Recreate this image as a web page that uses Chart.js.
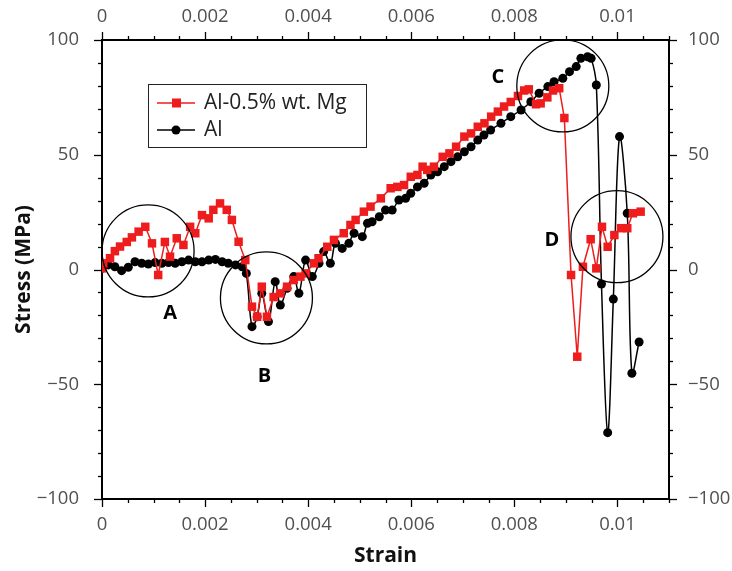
<!DOCTYPE html>
<html>
<head>
<meta charset="utf-8">
<script src="https://cdn.jsdelivr.net/npm/chart.js@4/dist/chart.umd.min.js"></script>
<style>
    html, body { margin: 0; padding: 0; background: #fff; }
    #wrap { width: 732px; height: 571px; }
</style>
</head>
<body>
<div id="wrap"><canvas id="chart" width="732" height="571"></canvas></div>
<script>
// Al-0.5% wt. Mg (red squares)
const mgStrain = [0, 0.000025, 0.000156, 0.00025, 0.00035, 0.00048, 0.00058, 0.00071, 0.00084, 0.00097, 0.00109,
    0.00122, 0.00132, 0.00145, 0.00158, 0.00171, 0.00181, 0.00194, 0.00207, 0.00216, 0.00229, 0.00242,
    0.00252, 0.00265, 0.00278, 0.00291, 0.00301, 0.0031, 0.0032, 0.00333, 0.00346, 0.00359, 0.00372,
    0.00385, 0.00395, 0.00411, 0.0042, 0.00437, 0.0045, 0.00469, 0.00482, 0.00492, 0.00508, 0.00521,
    0.00541, 0.0056, 0.00573, 0.00586, 0.00599, 0.00612, 0.00622, 0.00631, 0.00644, 0.00661, 0.00674,
    0.00687, 0.00703, 0.00716, 0.00729, 0.00742, 0.00755, 0.00768, 0.0078, 0.00793, 0.00807, 0.00819,
    0.00828, 0.00842, 0.00851, 0.00864, 0.00875, 0.00887, 0.00897, 0.0091, 0.00922, 0.00933, 0.00948,
    0.00959, 0.0097, 0.00981, 0.00994, 0.01007, 0.01019, 0.0103, 0.01045];
const mgStress = [0.5, 2.7, 4.9, 8, 10, 12, 14, 16.5, 18.6, 11.4, -2.4,
    12, 5.6, 13.6, 10.7, 18.6, 15.8, 23.7, 22.3, 26, 28.8, 26,
    21.6, 12.1, 4.1, -16.2, -20.6, -7.5, -20.6, -12, -10.4, -7.5, -4.6,
    -3.1, -1.7, 2.7, 4.9, 9.9, 12.9, 15.8, 19.4, 21.6, 25.2, 27.4,
    31, 35.4, 36, 36.8, 40.4, 41.2, 44.8, 43.4, 44.8, 49.1, 50.6,
    53.5, 57.9, 59.3, 62.2, 63.7, 66.6, 68.8, 71, 73, 75.6, 78,
    78.5, 72, 72.4, 75, 78, 79, 66, -2.4, -38, 1.2, 13.2,
    0.5, 18.6, 9.9, 15, 18, 18, 24.5, 25.2];

// Al (black circles)
const alStrain = [0, 0.00012, 0.00025, 0.00038, 0.00051, 0.00064, 0.00077, 0.0009, 0.00103, 0.00116, 0.00129,
    0.00142, 0.00155, 0.00168, 0.00181, 0.00194, 0.00207, 0.0022, 0.00233, 0.00245, 0.00259, 0.00272,
    0.0028, 0.00291, 0.00301, 0.0031, 0.00323, 0.00336, 0.00346, 0.00359, 0.00372, 0.00382, 0.00395,
    0.00408, 0.00421, 0.0043, 0.00443, 0.00453, 0.00466, 0.00479, 0.00489, 0.00505, 0.00515, 0.00524,
    0.00538, 0.0055, 0.00563, 0.00576, 0.00589, 0.00599, 0.00612, 0.00625, 0.00638, 0.00651, 0.00664,
    0.00677, 0.0069, 0.00703, 0.00716, 0.00729, 0.00741, 0.00754, 0.00774, 0.00793, 0.00813, 0.00832,
    0.00848, 0.00865, 0.00877, 0.00894, 0.00907, 0.0092, 0.00929, 0.00942, 0.00949, 0.00959, 0.00969,
    0.00981, 0.00992, 0.01004, 0.01019, 0.01028, 0.01042];
const alStress = [0.5, 2, 1.2, -0.5, 1, 3.4, 2.7, 2.4, 3, 2.7, 3,
    2.7, 3.4, 4.1, 3.4, 3.4, 4.1, 4.4, 3.4, 2.7, 2, 1.2,
    -1.7, -24.9, -20.6, -10.4, -22.7, -5.3, -15.5, -8.2, -3.1, -10.4, 4.1,
    -3.1, 2.7, 7.8, 2.7, 11.4, 9.2, 11.4, 15.8, 14.3, 20.1, 20.8,
    23, 25.9, 25.9, 30.3, 31, 33.2, 36, 37.6, 41.2, 42.6, 44.8,
    47, 49.1, 51.3, 53.5, 56.4, 58.6, 60.8, 63.7, 66.6, 69.5, 73.1,
    76.8, 79.7, 81.8, 83.3, 86.2, 88.4, 92, 92.7, 92, 80.4, -6.3,
    -71.1, -12.9, 57.9, 24.5, -45.2, -31.6];

// ringed regions and their letters (strain, stress)
const ringNames = ['A', 'B', 'C', 'D'];
const ringStrain = [0.000894, 0.00319, 0.00894, 0.00999];
const ringStress = [8.1, -12.4, 80, 14.3];
const letterStrain = [0.00132, 0.00315, 0.00768, 0.00873];
const letterStress = [-19, -46.4, 83.9, 12.9];

const xTicks = [0, 0.002, 0.004, 0.006, 0.008, 0.01];
const yTicks = [-100, -50, 0, 50, 100];

const RED = '#ee1c1c';
const TICK_FONT = { family: '"Open Sans", sans-serif', size: 18.5 };
const TITLE_FONT = { family: '"Open Sans", sans-serif', size: 21, weight: 'bold' };

function isMajorX(v) { return xTicks.some(t => Math.abs(t - v) < 1e-7); }
function isMajorY(v) { return yTicks.some(t => Math.abs(t - v) < 1e-7); }
function xLabel(v) { return isMajorX(v) ? String(Number(v.toFixed(4))) : ''; }
function yLabel(v) {
    if (!isMajorY(v)) return '';
    return v < 0 ? '\u2212' + Math.abs(v) : String(v);
}

function toPoints(xs, ys) { return xs.map((x, i) => ({ x: x, y: ys[i] })); }

// outward tick marks, long for labelled ticks
const tickMarks = {
    id: 'tickMarks',
    afterDraw(chart) {
        const ctx = chart.ctx;
        const a = chart.chartArea;
        ctx.save();
        ctx.strokeStyle = '#000';
        ctx.lineWidth = 1.3;
        ['x', 'x2', 'y', 'y2'].forEach(id => {
            const s = chart.scales[id];
            s.ticks.forEach(t => {
                const horiz = id === 'x' || id === 'x2';
                const major = horiz ? isMajorX(t.value) : isMajorY(t.value);
                const len = major ? 8 : 4;
                const p = Math.round(s.getPixelForValue(t.value)) + 0.5;
                ctx.beginPath();
                if (id === 'x') { ctx.moveTo(p, a.bottom); ctx.lineTo(p, a.bottom + len); }
                if (id === 'x2') { ctx.moveTo(p, a.top); ctx.lineTo(p, a.top - len); }
                if (id === 'y') { ctx.moveTo(a.left, p); ctx.lineTo(a.left - len, p); }
                if (id === 'y2') { ctx.moveTo(a.right, p); ctx.lineTo(a.right + len, p); }
                ctx.stroke();
            });
        });
        ctx.restore();
    }
};

// circles A-D with their letters
const rings = {
    id: 'rings',
    afterDatasetsDraw(chart) {
        const ctx = chart.ctx;
        const xs = chart.scales.x, ys = chart.scales.y;
        ctx.save();
        ctx.strokeStyle = '#000';
        ctx.lineWidth = 1.3;
        ringNames.forEach((name, i) => {
            ctx.beginPath();
            ctx.arc(xs.getPixelForValue(ringStrain[i]), ys.getPixelForValue(ringStress[i]), 46, 0, Math.PI * 2);
            ctx.stroke();
        });
        ctx.fillStyle = '#000';
        ctx.font = 'bold 20px "Open Sans", sans-serif';
        ctx.textAlign = 'center';
        ctx.textBaseline = 'middle';
        ringNames.forEach((name, i) => {
            ctx.fillText(name, xs.getPixelForValue(letterStrain[i]), ys.getPixelForValue(letterStress[i]));
        });
        ctx.restore();
    }
};

// boxed legend inside the plot
const boxLegend = {
    id: 'boxLegend',
    afterDraw(chart) {
        const ctx = chart.ctx;
        const box = { x: 148, y: 84, w: 218, h: 63 };
        ctx.save();
        ctx.fillStyle = '#fff';
        ctx.fillRect(box.x, box.y, box.w, box.h);
        ctx.strokeStyle = '#222';
        ctx.lineWidth = 1;
        ctx.strokeRect(box.x + 0.5, box.y + 0.5, box.w, box.h);
        chart.data.datasets.forEach((ds, i) => {
            const cy = 103 + i * 27;
            ctx.strokeStyle = ds.borderColor;
            ctx.lineWidth = 1.5;
            ctx.beginPath();
            ctx.moveTo(157, cy);
            ctx.lineTo(195, cy);
            ctx.stroke();
            ctx.fillStyle = ds.pointBackgroundColor;
            if (ds.pointStyle === 'rect') {
                ctx.fillRect(172, cy - 4.5, 9, 9);
            } else {
                ctx.beginPath();
                ctx.arc(176, cy, 4.5, 0, Math.PI * 2);
                ctx.fill();
            }
            ctx.fillStyle = '#222';
            ctx.font = '21px "Open Sans", sans-serif';
            ctx.textBaseline = 'middle';
            ctx.fillText(ds.label, 204, cy);
        });
        ctx.restore();
    }
};

const ctx = document.getElementById('chart').getContext('2d');

const chart = new Chart(ctx, {
    type: 'line',
    data: {
        datasets: [
            {
                label: 'Al-0.5% wt. Mg',
                data: toPoints(mgStrain, mgStress),
                borderColor: RED,
                backgroundColor: RED,
                pointBackgroundColor: RED,
                pointBorderWidth: 0,
                pointStyle: 'rect',
                pointRadius: 6,
                borderWidth: 1.5,
                tension: 0
            },
            {
                label: 'Al',
                data: toPoints(alStrain, alStress),
                borderColor: '#000',
                backgroundColor: '#000',
                pointBackgroundColor: '#000',
                pointBorderWidth: 0,
                pointStyle: 'circle',
                pointRadius: 4.5,
                borderWidth: 1.5,
                tension: 0.35
            }
        ]
    },
    options: {
        responsive: false,
        animation: false,
        layout: { padding: 0 },
        plugins: { legend: { display: false }, tooltip: { enabled: false } },
        scales: {
            x: {
                type: 'linear', position: 'bottom', min: 0, max: 0.011,
                afterFit: s => { s.height = 72; },
                grid: { display: false },
                border: { display: true, color: '#000', width: 2 },
                ticks: { stepSize: 0.0005, autoSkip: false, maxRotation: 0, padding: 7, color: '#505050', font: TICK_FONT, callback: xLabel },
                title: { display: true, text: 'Strain', color: '#111', font: TITLE_FONT, padding: { top: 0, bottom: 2 } }
            },
            x2: {
                type: 'linear', position: 'top', min: 0, max: 0.011,
                afterFit: s => { s.height = 40; },
                grid: { display: false },
                border: { display: true, color: '#000', width: 2 },
                ticks: { stepSize: 0.0005, autoSkip: false, maxRotation: 0, padding: 4, color: '#505050', font: TICK_FONT, callback: xLabel }
            },
            y: {
                type: 'linear', position: 'left', min: -100, max: 100,
                afterFit: s => { s.width = 102; },
                grid: { display: false },
                border: { display: true, color: '#000', width: 2 },
                ticks: { stepSize: 10, autoSkip: false, padding: 15, color: '#505050', font: TICK_FONT, callback: yLabel },
                title: { display: true, text: 'Stress (MPa)', color: '#111', font: TITLE_FONT, padding: { top: 11, bottom: 0 } }
            },
            y2: {
                type: 'linear', position: 'right', min: -100, max: 100,
                afterFit: s => { s.width = 63; },
                grid: { display: false },
                border: { display: true, color: '#000', width: 2 },
                ticks: { stepSize: 10, autoSkip: false, padding: 11, color: '#505050', font: TICK_FONT, callback: yLabel }
            }
        }
    },
    plugins: [tickMarks, rings, boxLegend]
});
</script>
</body>
</html>
